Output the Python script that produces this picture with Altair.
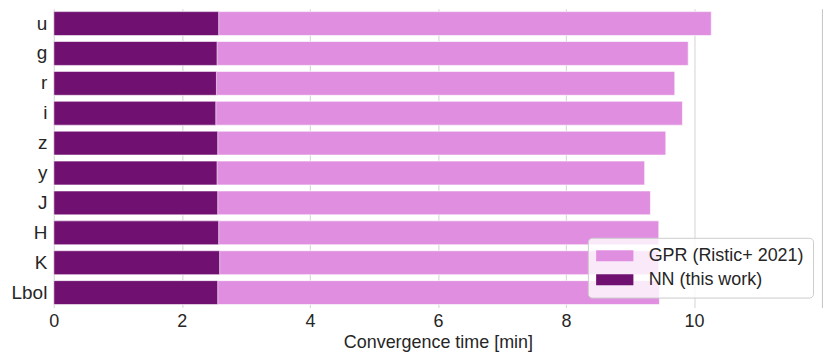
import altair as alt
import pandas as pd

categories = ["u", "g", "r", "i", "z", "y", "J", "H", "K", "Lbol"]
gpr_minutes = [10.27, 9.91, 9.70, 9.82, 9.56, 9.23, 9.32, 9.45, 9.45, 9.46]
nn_minutes = [2.575, 2.55, 2.54, 2.53, 2.56, 2.55, 2.56, 2.575, 2.59, 2.56]
series_names = ["GPR (Ristic+ 2021)", "NN (this work)"]
series_colors = ["#e08fe0", "#701070"]
x_ticks = [0, 2, 4, 6, 8, 10, 12]

rows = []
for c, v in zip(categories, gpr_minutes):
    rows.append({"band": c, "time": v, "model": series_names[0], "ord": 0})
for c, v in zip(categories, nn_minutes):
    rows.append({"band": c, "time": v, "model": series_names[1], "ord": 1})
df = pd.DataFrame(rows)

FONT = "Liberation Sans"
TXT = "#262626"

chart = alt.Chart(df).mark_bar(
    stroke="white", strokeWidth=1, strokeOpacity=0.6
).encode(
    y=alt.Y("band:N", sort=categories,
            scale=alt.Scale(paddingInner=0.2, paddingOuter=0.1),
            axis=alt.Axis(title=None, ticks=False, domain=False, labelFontSize=19,
                          labelColor=TXT, labelPadding=7, minExtent=46, maxExtent=46,
                          grid=False)),
    x=alt.X("time:Q", stack=None,
            scale=alt.Scale(domain=[0, 12], nice=False, zero=True),
            axis=alt.Axis(title="Convergence time [min]", values=x_ticks,
                          labelExpr="datum.value > 11 ? '' : datum.label",
                          labelFlush=False,
                          tickSize=0, domain=False, labelFontSize=18, labelColor=TXT,
                          labelPadding=5, titleFontSize=18, titleColor=TXT,
                          titleFontWeight="normal", titlePadding=3,
                          grid=True,
                          gridColor={"condition": {"test": "datum.value == 12", "value": "#c8c8c8"},
                                     "value": "#dadada"},
                          gridWidth=1.2)),
    color=alt.Color("model:N",
                    scale=alt.Scale(domain=series_names, range=series_colors),
                    legend=alt.Legend(title=None, orient="none", legendX=536, legendY=230,
                                      symbolType="M-2.2,-0.65H2.2V0.65H-2.2Z",
                                      symbolSize=289, symbolStrokeWidth=0,
                                      symbolOpacity=1,
                                      symbolOffset=9, labelOffset=25,
                                      labelFontSize=18, labelColor=TXT,
                                      rowPadding=6, padding=9,
                                      fillColor="rgba(255,255,255,0.8)",
                                      strokeColor="#cccccc", cornerRadius=4)),
    order=alt.Order("ord:Q"),
).properties(
    width=771, height=300,
    padding={"left": 0, "top": 0, "right": 0, "bottom": 0},
).configure(font=FONT).configure_view(stroke=None)

chart.save("out.html", embed_options={"renderer": "svg", "actions": False})
